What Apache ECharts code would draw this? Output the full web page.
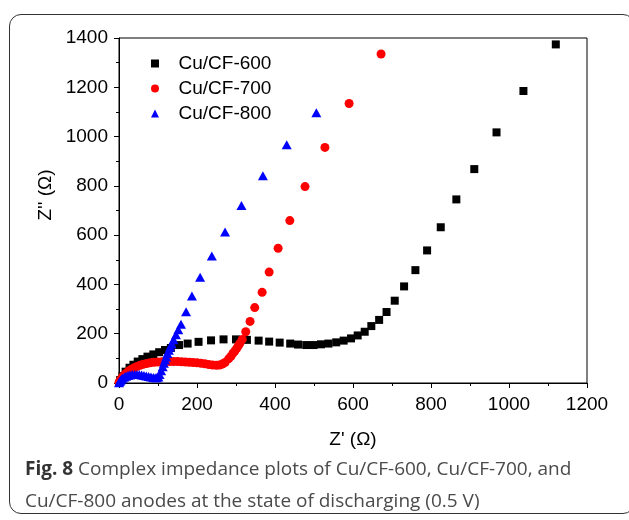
<!DOCTYPE html>
<html>
<head>
<meta charset="utf-8">
<script src="https://cdn.jsdelivr.net/npm/echarts@6/dist/echarts.min.js"></script>
<style>
  html, body { margin: 0; padding: 0; background: #fff; }
  #wrap { position: relative; width: 629px; height: 520px; overflow: hidden; }
  #frame {
    position: absolute; left: 9px; top: 14px; width: 626px; height: 500px;
    border: 1.5px solid #333; border-radius: 12px; box-sizing: border-box;
  }
  #chart { position: absolute; left: 0; top: 0; width: 629px; height: 520px; }
  #caption {
    position: absolute; left: 25px; top: 452px; width: 600px; white-space: nowrap;
    font-family: "Open Sans", sans-serif; font-size: 19px; line-height: 32px; color: #4a4a4a;
  }
  #caption b { color: #333; }
</style>
</head>
<body>
<div id="wrap">
  <div id="frame"></div>
  <div id="chart"></div>
  <div id="caption"><b>Fig. 8</b> Complex impedance plots of Cu/CF-600, Cu/CF-700, and<br>Cu/CF-800 anodes at the state of discharging (0.5 V)</div>
</div>
<script>
// 系列名
const seriesNames = ['Cu/CF-600', 'Cu/CF-700', 'Cu/CF-800']

// Cu/CF-600 [Z', Z'']
const cf600 = [
  [3, 12], [9, 28], [17, 46], [27, 62], [37, 74], [48, 87], [60, 97], [73, 107],
  [88, 116], [103, 125], [118, 134], [133, 142], [154, 154], [176, 160], [204, 167],
  [236, 173], [268, 177], [300, 177], [328, 175], [358, 172], [385, 168], [412, 164],
  [439, 160], [459, 156], [480, 154], [499, 154], [518, 157], [537, 160], [557, 165],
  [576, 172], [595, 181], [612, 193], [630, 208], [647, 231], [667, 256], [686, 288],
  [707, 334], [731, 392], [760, 458], [790, 538], [825, 632], [865, 745], [911, 868],
  [968, 1017], [1037, 1185], [1120, 1374]
]

// Cu/CF-700
const cf700 = [
  [0, 2], [3, 10], [6, 18], [10, 27], [15, 35], [20, 42], [26, 50], [32, 56],
  [39, 62], [46, 67], [54, 72], [62, 76], [71, 79], [80, 82], [90, 84], [100, 85],
  [110, 86], [120, 87], [130, 87], [140, 87], [150, 87], [160, 86], [170, 85],
  [180, 84], [190, 83], [200, 82], [210, 80], [220, 78], [230, 75], [240, 73],
  [250, 72], [258, 73], [265, 77], [272, 83], [281, 98], [287, 108], [292, 120],
  [297, 130], [302, 141], [306, 151], [310, 161], [316, 177], [325, 208],
  [336, 250], [348, 306], [367, 368], [385, 450], [408, 547], [438, 659],
  [477, 797], [528, 956], [590, 1134], [672, 1335]
]

// Cu/CF-800
const cf800 = [
  [0, 1], [2, 6], [4, 11], [7, 16], [10, 20], [14, 24], [18, 27], [23, 30],
  [28, 32], [34, 34], [40, 35], [46, 35], [52, 34], [58, 32], [64, 30], [70, 28],
  [76, 26], [82, 24], [88, 22], [93, 21], [97, 21], [101, 24], [104, 34],
  [108, 50], [112, 66], [115, 80], [118, 93], [121, 106], [124, 120], [128, 133],
  [131, 145], [135, 158], [140, 176], [146, 196], [152, 216], [159, 238],
  [172, 289], [187, 353], [208, 429], [238, 515], [272, 613], [314, 720],
  [369, 841], [430, 967], [506, 1097]
]

const xTicks = { min: 0, max: 1200, interval: 200 }
const yTicks = { min: 0, max: 1400, interval: 200 }

const colors = ['#000000', '#ff0000', '#0000ff']
const symbols = ['rect', 'circle', 'triangle']
const symbolSizes = [8, 9, [10, 9]]
const legendIcons = [
  'path://M0,0L1,0L1,1L0,1Z',
  'path://M0,0.5A0.5,0.5,0,1,1,1,0.5A0.5,0.5,0,1,1,0,0.5Z',
  'path://M0.5,0L1,1L0,1Z'
]

const font = 'Arial, "Liberation Sans", sans-serif'

var myChart = echarts.init(document.getElementById('chart'))

var option = {
  animation: false,
  textStyle: { fontFamily: font },
  grid: {
    left: 119, right: 42, top: 38, bottom: 137,
    show: true, borderColor: '#000', borderWidth: 1
  },
  legend: {
    orient: 'vertical',
    left: 146, top: 49,
    itemWidth: 37, itemHeight: 8, itemGap: 6,
    symbolKeepAspect: true,
    textStyle: { fontSize: 19, color: '#000', fontFamily: font },
    data: seriesNames.map((n, i) => ({ name: n, icon: legendIcons[i] }))
  },
  xAxis: {
    type: 'value',
    min: xTicks.min, max: xTicks.max, interval: xTicks.interval,
    name: "Z' (\u03A9)",
    nameLocation: 'middle', nameGap: 47,
    nameTextStyle: { fontSize: 19, color: '#000', fontFamily: font },
    axisLine: { onZero: false, lineStyle: { color: '#000', width: 1 } },
    axisTick: { show: true, inside: false, length: 5, lineStyle: { color: '#000' } },
    minorTick: { show: true, splitNumber: 2, length: 3, lineStyle: { color: '#000' } },
    axisLabel: { fontSize: 19, color: '#000', margin: 12, fontFamily: font, formatter: v => String(v) },
    splitLine: { show: false }
  },
  yAxis: {
    type: 'value',
    min: yTicks.min, max: yTicks.max, interval: yTicks.interval,
    axisLine: { show: true, onZero: false, lineStyle: { color: '#000', width: 1 } },
    axisTick: { show: true, inside: false, length: 5, lineStyle: { color: '#000' } },
    minorTick: { show: true, splitNumber: 2, length: 3, lineStyle: { color: '#000' } },
    axisLabel: { fontSize: 19, color: '#000', margin: 11, fontFamily: font, formatter: v => String(v) },
    splitLine: { show: false }
  },
  graphic: [
    {
      type: 'text',
      x: 46, y: 195,
      rotation: Math.PI / 2,
      style: {
        text: "Z'' (\u03A9)",
        fontSize: 19, fontFamily: font, fill: '#000',
        align: 'center', verticalAlign: 'middle'
      }
    }
  ],
  series: [cf600, cf700, cf800].map((d, i) => ({
    name: seriesNames[i],
    type: 'scatter',
    data: d,
    symbol: symbols[i],
    symbolSize: symbolSizes[i],
    itemStyle: { color: colors[i], opacity: 1 },
    emphasis: { disabled: true }
  }))
}

myChart.setOption(option)
</script>
</body>
</html>
